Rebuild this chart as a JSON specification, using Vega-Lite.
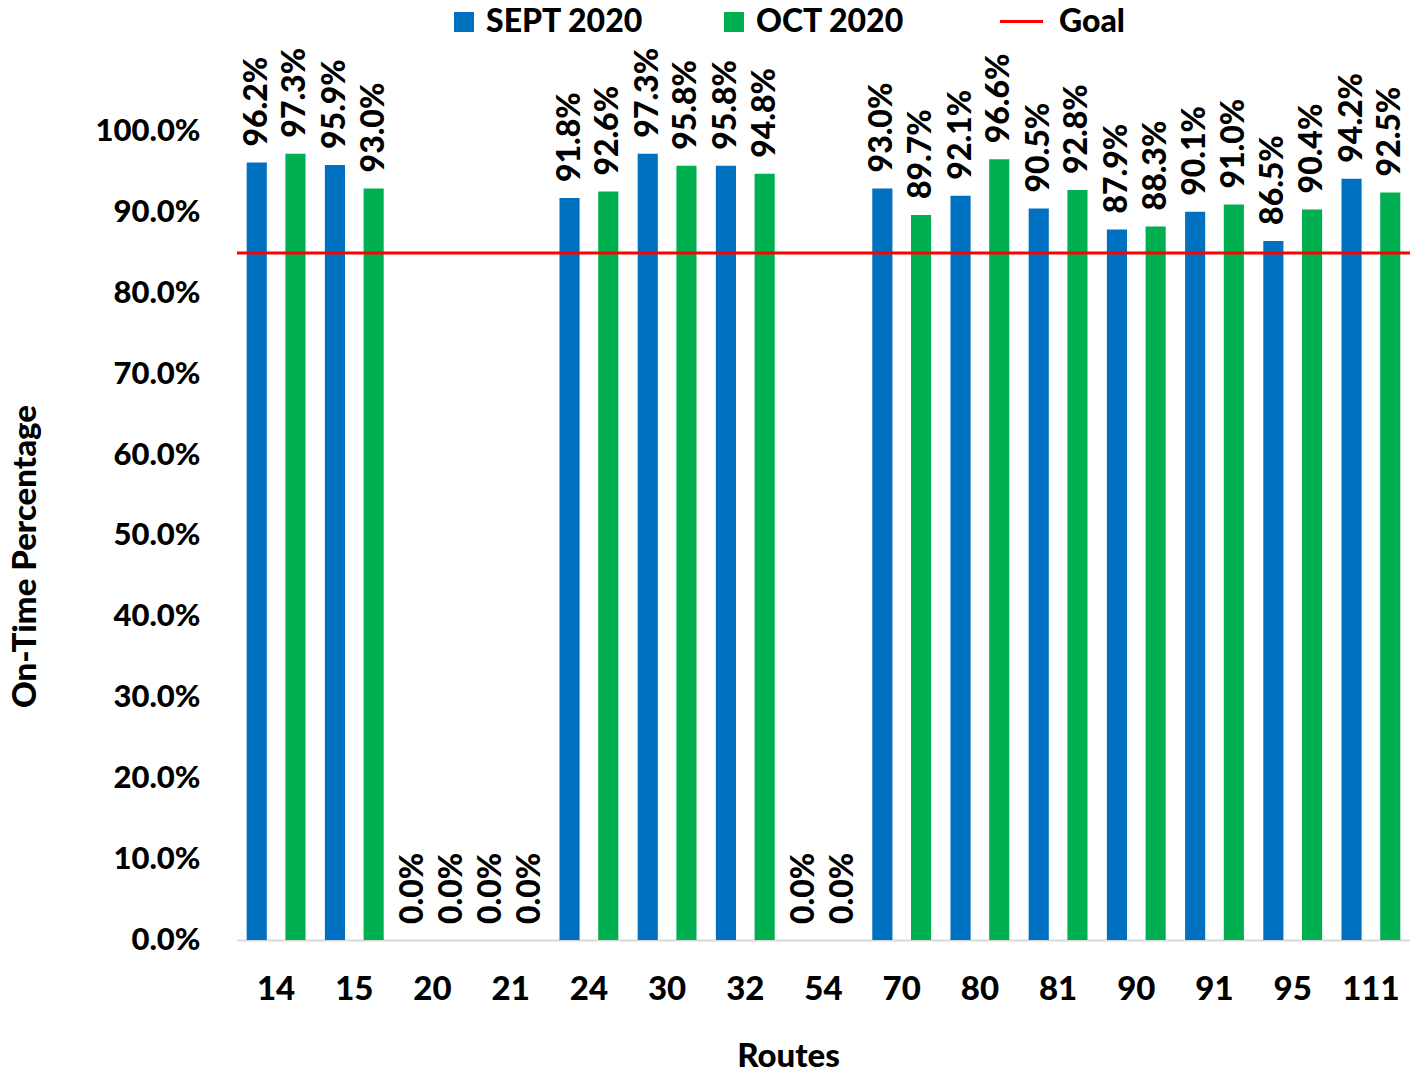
{
  "$schema": "https://vega.github.io/schema/vega-lite/v6.json",
  "width": 1173,
  "height": 889,
  "autosize": {"type": "none"},
  "padding": {"left": 237, "top": 51, "right": 0, "bottom": 133},
  "background": "white",
  "config": {
    "view": {"stroke": null},
    "font": "Lato",
    "text": {"font": "Lato"}
  },
  "datasets": {
    "bars": [
      {"route": "14", "month": "SEPT 2020", "value": 0.962},
      {"route": "14", "month": "OCT 2020", "value": 0.973},
      {"route": "15", "month": "SEPT 2020", "value": 0.959},
      {"route": "15", "month": "OCT 2020", "value": 0.930},
      {"route": "20", "month": "SEPT 2020", "value": 0.0},
      {"route": "20", "month": "OCT 2020", "value": 0.0},
      {"route": "21", "month": "SEPT 2020", "value": 0.0},
      {"route": "21", "month": "OCT 2020", "value": 0.0},
      {"route": "24", "month": "SEPT 2020", "value": 0.918},
      {"route": "24", "month": "OCT 2020", "value": 0.926},
      {"route": "30", "month": "SEPT 2020", "value": 0.973},
      {"route": "30", "month": "OCT 2020", "value": 0.958},
      {"route": "32", "month": "SEPT 2020", "value": 0.958},
      {"route": "32", "month": "OCT 2020", "value": 0.948},
      {"route": "54", "month": "SEPT 2020", "value": 0.0},
      {"route": "54", "month": "OCT 2020", "value": 0.0},
      {"route": "70", "month": "SEPT 2020", "value": 0.930},
      {"route": "70", "month": "OCT 2020", "value": 0.897},
      {"route": "80", "month": "SEPT 2020", "value": 0.921},
      {"route": "80", "month": "OCT 2020", "value": 0.966},
      {"route": "81", "month": "SEPT 2020", "value": 0.905},
      {"route": "81", "month": "OCT 2020", "value": 0.928},
      {"route": "90", "month": "SEPT 2020", "value": 0.879},
      {"route": "90", "month": "OCT 2020", "value": 0.883},
      {"route": "91", "month": "SEPT 2020", "value": 0.901},
      {"route": "91", "month": "OCT 2020", "value": 0.910},
      {"route": "95", "month": "SEPT 2020", "value": 0.865},
      {"route": "95", "month": "OCT 2020", "value": 0.904},
      {"route": "111", "month": "SEPT 2020", "value": 0.942},
      {"route": "111", "month": "OCT 2020", "value": 0.925}
    ],
    "goal": [{"name": "Goal", "goal": 0.85}]
  },
  "layer": [
    {
      "data": {"name": "bars"},
      "mark": {"type": "bar"},
      "encoding": {
        "x": {
          "field": "route", "type": "nominal", "sort": null,
          "scale": {"paddingInner": 0, "paddingOuter": 0},
          "axis": {
            "title": "Routes", "labelAngle": 0, "ticks": false,
            "domainColor": "#D9D9D9", "domainWidth": 2,
            "labelFontSize": 33, "labelFontWeight": 900, "labelColor": "black",
            "labelPadding": 33,
            "titleFontSize": 33, "titleFontWeight": 900, "titleColor": "black",
            "titleX": 551, "titleY": 100
          }
        },
        "xOffset": {
          "field": "month", "type": "nominal", "sort": ["SEPT 2020", "OCT 2020"],
          "scale": {"paddingInner": 0.48, "paddingOuter": 0.25}
        },
        "y": {
          "field": "value", "type": "quantitative",
          "scale": {"domain": [0, 1.1], "nice": false},
          "axis": {
            "title": "On-Time Percentage", "format": ".1%",
            "values": [0, 0.1, 0.2, 0.3, 0.4, 0.5, 0.6, 0.7, 0.8, 0.9, 1.0],
            "grid": false, "domain": false, "ticks": false,
            "labelFontSize": 31, "labelFontWeight": 900, "labelColor": "black",
            "labelPadding": 37,
            "titleFontSize": 33, "titleFontWeight": 900, "titleColor": "black",
            "titleX": -195, "titleY": 505
          }
        },
        "color": {
          "field": "month", "type": "nominal",
          "sort": ["SEPT 2020", "OCT 2020"],
          "scale": {"domain": ["SEPT 2020", "OCT 2020"], "range": ["#0070C0", "#00B050"]},
          "legend": {
            "title": null, "orient": "none", "direction": "horizontal",
            "legendX": 211, "legendY": -45,
            "symbolType": "square", "symbolSize": 400, "symbolStrokeWidth": 0,
            "labelFontSize": 32, "labelFontWeight": 900, "labelColor": "black",
            "labelOffset": 6, "columnPadding": 74, "labelLimit": 400
          }
        }
      }
    },
    {
      "data": {"name": "bars"},
      "mark": {"type": "text", "angle": 270, "align": "left", "baseline": "middle", "dx": 16, "fontSize": 32, "fontWeight": 900, "color": "black"},
      "encoding": {
        "x": {"field": "route", "type": "nominal", "sort": null},
        "xOffset": {"field": "month", "type": "nominal", "sort": ["SEPT 2020", "OCT 2020"]},
        "y": {"field": "value", "type": "quantitative"},
        "text": {"field": "value", "type": "quantitative", "format": ".1%"}
      }
    },
    {
      "data": {"name": "goal"},
      "mark": {"type": "rule", "strokeWidth": 3},
      "encoding": {
        "y": {"field": "goal", "type": "quantitative"},
        "stroke": {
          "field": "name", "type": "nominal",
          "scale": {"domain": ["Goal"], "range": ["#FF0000"]},
          "legend": {
            "title": null, "orient": "none", "legendX": 761, "legendY": -53,
            "symbolType": "stroke", "symbolSize": 1850, "symbolStrokeWidth": 3,
            "labelFontSize": 32, "labelFontWeight": 900, "labelColor": "black",
            "labelOffset": 14
          }
        }
      }
    }
  ]
}
